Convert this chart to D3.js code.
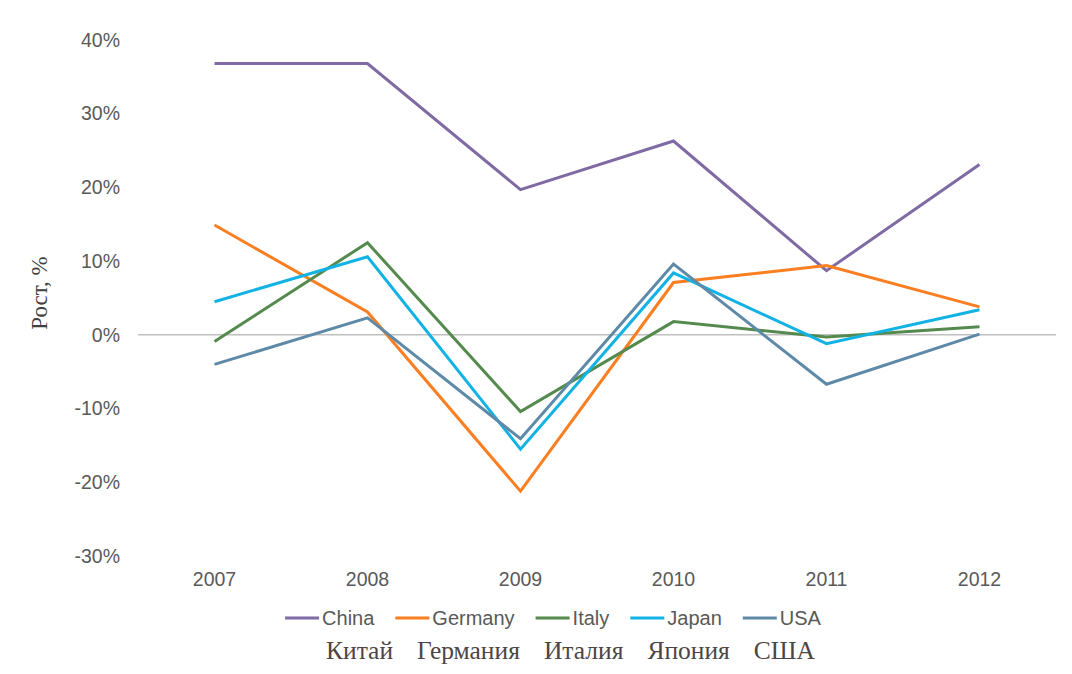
<!DOCTYPE html>
<html>
<head>
<meta charset="utf-8">
<script src="https://cdn.jsdelivr.net/npm/d3@7"></script>
<style>
  body { margin: 0; background: #fff; }
  svg { display: block; }
</style>
</head>
<body>
<svg id="chart" width="1072" height="674"></svg>
<script>
// data (growth, %)
var years = ["2007", "2008", "2009", "2010", "2011", "2012"];
var seriesNames = ["China", "Germany", "Italy", "Japan", "USA"];
var ruNames = ["Китай", "Германия", "Италия", "Япония", "США"];
var seriesColors = ["#7f6aa3", "#fb7e21", "#548a4d", "#12b3e4", "#5e8aa8"];
var china   = [36.8, 36.8, 19.7, 26.3, 8.7, 23.1];
var germany = [14.9, 3.1, -21.2, 7.1, 9.4, 3.8];
var italy   = [-0.9, 12.5, -10.4, 1.8, -0.3, 1.1];
var japan   = [4.5, 10.6, -15.5, 8.4, -1.2, 3.4];
var usa     = [-4.0, 2.3, -14.1, 9.6, -6.7, 0.1];
var yTicks  = [40, 30, 20, 10, 0, -10, -20, -30];

var series = [china, germany, italy, japan, usa];

var svg = d3.select("#chart");
var plotLeft = 138, plotRight = 1056, plotTop = 40, plotBottom = 556;

var x = d3.scaleBand().domain(years).range([plotLeft, plotRight]);
var y = d3.scaleLinear().domain([-30, 40]).range([plotBottom, plotTop]);

var sans = "Liberation Sans, Arial, sans-serif";
var serif = "Liberation Serif, Times New Roman, serif";

// y axis labels
var yAxis = d3.axisLeft(y).tickValues(yTicks).tickSize(0).tickPadding(0)
	.tickFormat(function(d){ return d + "%"; });
var gy = svg.append("g").attr("transform", "translate(120,0)").call(yAxis);
gy.select(".domain").remove();
gy.selectAll("text").attr("fill", "#595959").style("font-family", sans).style("font-size", "19.5px");

// x axis labels
var xAxis = d3.axisBottom(x).tickSize(0).tickPadding(0);
var gx = svg.append("g").attr("transform", "translate(0,572)").call(xAxis);
gx.select(".domain").remove();
gx.selectAll("text").attr("fill", "#595959").style("font-family", sans).style("font-size", "19.5px");

// zero line
svg.append("line")
	.attr("x1", plotLeft).attr("x2", plotRight)
	.attr("y1", y(0)).attr("y2", y(0))
	.attr("stroke", "#bfbfbf").attr("stroke-width", 1.5);

// y title
svg.append("text")
	.attr("transform", "translate(47,293) rotate(-90)")
	.attr("text-anchor", "middle")
	.attr("fill", "#404040")
	.style("font-family", serif)
	.style("font-size", "23px")
	.text("Рост, %");

// lines
var line = d3.line()
	.x(function(d, i){ return x(years[i]) + x.bandwidth() / 2; })
	.y(function(d){ return y(d); });

svg.selectAll(".series")
	.data(series)
	.enter().append("path")
	.attr("class", "series")
	.attr("d", line)
	.attr("fill", "none")
	.attr("stroke", function(d, i){ return seriesColors[i]; })
	.attr("stroke-width", 3)
	.attr("stroke-linejoin", "miter");

// legend
var legend = svg.append("g");
var items = legend.selectAll(".item").data(seriesNames).enter().append("g").attr("class", "item");
items.append("line")
	.attr("x1", 0).attr("x2", 34).attr("y1", 0).attr("y2", 0)
	.attr("stroke", function(d, i){ return seriesColors[i]; })
	.attr("stroke-width", 3);
items.append("text")
	.attr("x", 37).attr("y", 7)
	.attr("fill", "#595959")
	.style("font-family", sans)
	.style("font-size", "20px")
	.text(function(d){ return d; });

var pos = 0;
items.each(function(d, i){
	var tw = d3.select(this).select("text").node().getComputedTextLength();
	d3.select(this).attr("transform", "translate(" + pos + ",0)");
	pos += 37 + tw + 21;
});
var total = pos - 21;
legend.attr("transform", "translate(" + (553 - total / 2) + ",618)");

// russian names row, laid out left to right with an even gap
var ru = svg.selectAll(".ru")
	.data(ruNames)
	.enter().append("text")
	.attr("class", "ru")
	.attr("y", 659)
	.attr("fill", "#4d4545")
	.style("font-family", serif)
	.style("font-size", "25.5px")
	.text(function(d){ return d; });
var rx = 326;
ru.each(function(){
	d3.select(this).attr("x", rx);
	rx += this.getComputedTextLength() + 24;
});
</script>
</body>
</html>
